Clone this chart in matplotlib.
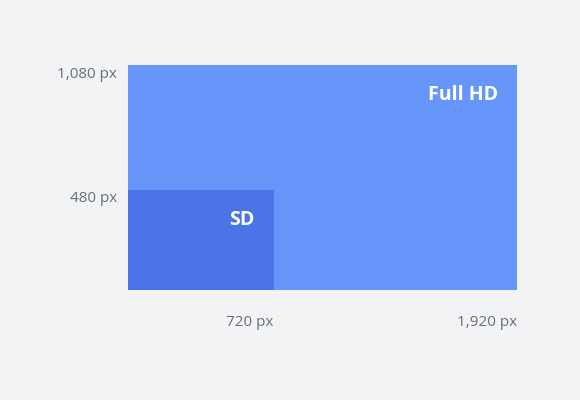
import matplotlib
matplotlib.use("Agg")
import matplotlib.pyplot as plt
from matplotlib.patches import Rectangle

names = ["Full HD", "SD"]
widths = [1920, 720]
heights = [1080, 480]
colors = ["#6796fb", "#4a74e8"]
xlabels = ["720 px", "1,920 px"]
ylabels = ["480 px", "1,080 px"]

plt.rcParams['font.family'] = ['Open Sans', 'DejaVu Sans']
fig = plt.figure(figsize=(5.8, 4), dpi=100, facecolor="#f2f3f5")
ax = fig.add_axes([128/580, 1-290/400, 389/580, 225/400])
ax.set_xlim(0, 1920); ax.set_ylim(0, 1080)
ax.axis("off")
for n, w, h, c in zip(names, widths, heights, colors):
    ax.add_patch(Rectangle((0, 0), w, h, color=c, lw=0))
    ax.annotate(n, (w, h), xytext=(-19, -30), textcoords="offset pixels",
                ha="right", va="center", color="white", fontsize=14, fontweight="bold")
for lab, w in zip(xlabels, sorted(widths)):
    ax.annotate(lab, (w, 0), xytext=(0, -33), textcoords="offset pixels",
                ha="right", va="center", color="#6b6f76", fontsize=11, annotation_clip=False)
for lab, h in zip(ylabels, sorted(heights)):
    ax.annotate(lab, (0, h), xytext=(-11, -9), textcoords="offset pixels",
                ha="right", va="center", color="#6b6f76", fontsize=11, annotation_clip=False)
fig.savefig("out.png", dpi=100, facecolor=fig.get_facecolor())
